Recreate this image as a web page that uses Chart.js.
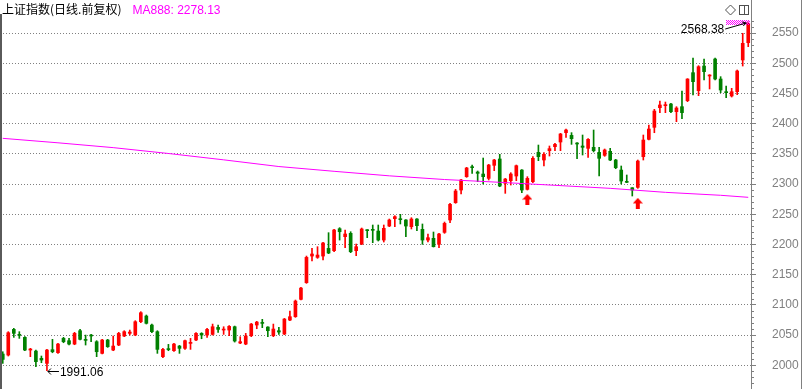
<!DOCTYPE html>
<html>
<head>
<meta charset="utf-8">
<script src="https://cdn.jsdelivr.net/npm/chart.js@4.4.1/dist/chart.umd.min.js"></script>
<style>
  html, body { margin: 0; padding: 0; background: #fff; }
  #wrap { position: relative; width: 803px; height: 389px; overflow: hidden; }
  #title { position: absolute; left: 2px; top: 2px; font: 12px "Noto Sans CJK SC", sans-serif; line-height: 14px; color: #000; white-space: nowrap; }
  #title .ma { color: #ff00ff; font-family: "Liberation Sans", Arial, sans-serif; margin-left: 11px; }
</style>
</head>
<body>
<div id="wrap">
  <canvas id="kline" width="803" height="389"></canvas>
  <div id="title">上证指数(日线.前复权)<span class="ma">MA888: 2278.13</span></div>
</div>
<script>
(function () {
  // daily candles
  const opens = [
    2018.7, 2017.0, 2059.5, 2050.7, 2046.3, 2025.3, 2023.6, 2011.5, 2003.2, 2025.9,
    2020.9, 2044.6, 2040.8, 2035.2, 2057.3, 2042.4, 2050.1, 2039.1, 2019.8, 2041.9,
    2025.3, 2033.6, 2048.5, 2052.9, 2050.1, 2072.2, 2081.6, 2066.7, 2055.7, 2014.3,
    2027.0, 2024.2, 2031.9, 2028.1, 2036.3, 2041.9, 2052.9, 2050.1, 2051.2, 2062.8,
    2058.4, 2058.4, 2063.9, 2036.9, 2035.2, 2049.0, 2066.7, 2070.5, 2063.4, 2049.0,
    2057.3, 2051.8, 2074.9, 2080.5, 2109.2, 2136.8, 2180.9, 2178.7, 2180.9, 2193.6,
    2189.8, 2226.2, 2213.0, 2218.5, 2189.8, 2200.8, 2224.0, 2224.0, 2222.3, 2207.4,
    2230.6, 2242.8, 2242.2, 2240.6, 2229.5, 2242.2, 2225.1, 2207.4, 2210.2, 2200.3,
    2220.1, 2240.6, 2269.3, 2290.2, 2312.3, 2328.3, 2320.0, 2316.7, 2309.5, 2331.1,
    2341.6, 2301.3, 2305.7, 2313.4, 2323.3, 2291.3, 2304.0, 2352.6, 2339.9, 2355.4,
    2362.0, 2369.7, 2385.2, 2380.7, 2367.5, 2363.1, 2359.2, 2360.9, 2352.6, 2347.6,
    2354.3, 2339.9, 2323.3, 2304.0, 2294.0, 2294.6, 2345.4, 2374.1, 2394.0, 2426.5,
    2429.9, 2432.6, 2419.9, 2428.2, 2438.1, 2484.5, 2454.7, 2495.5, 2479.0, 2507.1,
    2474.0, 2453.0, 2445.9, 2453.0, 2505.5, 2534.1
  ];
  const highs = [
    2022.5, 2055.7, 2061.2, 2055.7, 2047.4, 2028.1, 2025.3, 2015.4, 2026.4, 2043.0,
    2036.3, 2046.3, 2044.6, 2054.6, 2059.5, 2050.1, 2051.2, 2040.8, 2043.0, 2043.0,
    2048.5, 2054.6, 2057.3, 2058.4, 2073.9, 2088.8, 2083.3, 2068.4, 2057.3, 2028.1,
    2034.7, 2036.3, 2033.0, 2041.9, 2044.6, 2054.0, 2054.0, 2061.2, 2068.3, 2066.7,
    2063.9, 2065.6, 2065.0, 2047.4, 2052.9, 2069.4, 2072.8, 2076.1, 2063.9, 2068.3,
    2062.8, 2077.7, 2089.9, 2108.1, 2129.1, 2180.9, 2193.6, 2196.4, 2203.6, 2219.6,
    2225.1, 2227.9, 2224.0, 2221.2, 2200.8, 2227.3, 2224.6, 2232.3, 2232.3, 2232.3,
    2242.2, 2247.7, 2250.0, 2241.1, 2244.4, 2242.8, 2234.0, 2217.4, 2220.7, 2218.5,
    2237.2, 2268.2, 2291.3, 2307.9, 2327.8, 2331.6, 2321.7, 2343.2, 2332.7, 2341.0,
    2349.3, 2309.5, 2318.9, 2331.6, 2323.9, 2312.3, 2345.4, 2364.7, 2352.0, 2363.1,
    2367.5, 2384.1, 2391.2, 2385.2, 2368.6, 2381.3, 2375.2, 2389.6, 2360.9, 2358.1,
    2359.2, 2341.0, 2330.0, 2315.1, 2294.1, 2339.9, 2381.3, 2397.9, 2423.8, 2437.6,
    2435.9, 2433.7, 2428.2, 2454.1, 2474.6, 2508.8, 2496.1, 2507.1, 2481.2, 2508.8,
    2477.9, 2462.4, 2458.6, 2488.9, 2549.7, 2568.38
  ];
  const lows = [
    2003.2, 2015.4, 2046.3, 2044.6, 2024.2, 2014.3, 1997.7, 2004.3, 1991.06, 2020.8,
    2019.8, 2037.4, 2033.6, 2034.1, 2041.9, 2033.6, 2039.1, 2014.3, 2018.7, 2029.7,
    2024.2, 2032.5, 2047.4, 2050.1, 2049.0, 2070.6, 2068.4, 2054.0, 2019.8, 2012.6,
    2024.2, 2023.1, 2019.8, 2026.4, 2026.4, 2040.8, 2044.0, 2046.3, 2050.1, 2054.5,
    2051.2, 2049.0, 2038.5, 2035.8, 2034.1, 2047.4, 2060.6, 2062.3, 2047.4, 2047.4,
    2051.2, 2050.7, 2073.9, 2079.4, 2108.1, 2135.7, 2172.7, 2177.1, 2174.3, 2184.8,
    2188.1, 2207.4, 2194.7, 2186.5, 2181.5, 2199.7, 2211.3, 2203.0, 2205.8, 2204.1,
    2229.5, 2229.5, 2234.0, 2213.0, 2225.7, 2222.9, 2200.3, 2204.1, 2195.8, 2194.7,
    2218.5, 2236.1, 2268.2, 2283.6, 2311.2, 2317.8, 2304.0, 2300.2, 2306.8, 2322.2,
    2295.7, 2284.7, 2298.5, 2305.7, 2285.8, 2290.2, 2302.4, 2338.8, 2330.0, 2346.5,
    2355.4, 2355.4, 2377.4, 2365.8, 2342.1, 2348.2, 2344.3, 2353.2, 2313.4, 2346.0,
    2338.8, 2325.5, 2300.2, 2302.4, 2280.3, 2293.0, 2339.9, 2373.0, 2385.1, 2418.3,
    2418.3, 2418.3, 2403.4, 2408.3, 2436.5, 2447.5, 2446.4, 2472.4, 2457.5, 2472.4,
    2451.4, 2443.1, 2444.2, 2448.1, 2495.5, 2527.5
  ];
  const closes = [
    2009.8, 2054.0, 2052.9, 2049.6, 2025.3, 2027.0, 2006.0, 2008.7, 2025.3, 2022.5,
    2035.2, 2039.1, 2035.2, 2052.9, 2043.0, 2041.3, 2048.5, 2022.5, 2041.9, 2030.8,
    2031.9, 2052.9, 2055.7, 2055.1, 2072.2, 2087.1, 2069.5, 2055.7, 2026.4, 2026.4,
    2026.0, 2035.2, 2028.1, 2040.8, 2038.0, 2052.9, 2050.1, 2059.5, 2063.9, 2059.5,
    2059.5, 2064.5, 2040.2, 2039.1, 2048.5, 2068.3, 2071.6, 2069.4, 2057.3, 2060.1,
    2055.1, 2076.6, 2080.5, 2106.4, 2127.9, 2178.7, 2184.3, 2182.6, 2202.5, 2185.9,
    2224.0, 2221.2, 2217.4, 2188.1, 2196.4, 2225.7, 2222.9, 2223.5, 2207.4, 2226.8,
    2240.6, 2246.1, 2241.1, 2230.6, 2242.2, 2231.2, 2207.4, 2211.3, 2196.4, 2217.4,
    2235.0, 2266.5, 2288.6, 2306.8, 2326.7, 2327.2, 2317.8, 2312.3, 2331.6, 2339.9,
    2296.8, 2308.4, 2316.7, 2330.5, 2290.2, 2309.5, 2342.7, 2345.4, 2349.3, 2358.7,
    2365.8, 2383.0, 2389.6, 2375.2, 2366.4, 2360.9, 2374.1, 2355.4, 2342.7, 2356.5,
    2339.9, 2327.2, 2305.1, 2302.9, 2290.2, 2338.2, 2373.0, 2391.2, 2421.0, 2431.0,
    2431.5, 2419.9, 2426.0, 2418.3, 2474.0, 2469.6, 2494.4, 2486.2, 2480.1, 2474.0,
    2455.8, 2451.4, 2453.0, 2487.3, 2533.1, 2566.2
  ];

  // MA888 read at a few candles, drawn as a line through them
  const maIndex = [0, 10, 20, 30, 40, 50, 60, 70, 80, 90, 100, 110, 120, 130, 135];
  const maValues = [2375.8, 2368.4, 2360.4, 2350.7, 2340.2, 2329.1, 2321.2, 2313.7, 2307.6, 2303.0, 2298.0, 2293.0, 2286.4, 2281.5, 2278.13];

  // red up-arrow signals under the candles
  const signalIndex = [95, 115];
  const signalValues = [2274.5, 2268.2];

  const yTicks = [2000, 2050, 2100, 2150, 2200, 2250, 2300, 2350, 2400, 2450, 2500, 2550];
  const yMin = 1960.8;
  const yMax = 2571.7;

  const UP = "#ff0000";
  const DOWN = "#008000";
  const GRAY = "#808080";
  const LABEL_FONT = '12px "Liberation Sans", Arial, sans-serif';

  const labels = opens.map((_, i) => String(i + 1));
  const colors = opens.map((o, i) => (closes[i] >= o ? UP : DOWN));
  const wickData = lows.map((l, i) => [l, highs[i]]);
  const bodyData = opens.map((o, i) => [o, closes[i]]);
  const maData = labels.map(() => null);
  maIndex.forEach((idx, k) => { maData[idx] = maValues[k]; });
  const signalData = labels.map(() => null);
  signalIndex.forEach((idx, k) => { signalData[idx] = signalValues[k]; });

  function upArrow() {
    const c = document.createElement("canvas");
    c.width = 10;
    c.height = 11;
    const g = c.getContext("2d");
    g.fillStyle = UP;
    g.beginPath();
    g.moveTo(5, 0);
    g.lineTo(10, 5.5);
    g.lineTo(7, 5.5);
    g.lineTo(7, 11);
    g.lineTo(3, 11);
    g.lineTo(3, 5.5);
    g.lineTo(0, 5.5);
    g.closePath();
    g.fill();
    return c;
  }

  // frame, minor ticks, high/low labels, corner icons
  const decor = {
    id: "decor",
    afterDraw(chart) {
      const ctx = chart.ctx;
      const xs = chart.scales.x;
      const ys = chart.scales.y;
      ctx.save();

      ctx.strokeStyle = GRAY;
      ctx.lineWidth = 1;
      ctx.beginPath();
      ctx.moveTo(Math.round(ys.left) + 0.5, 0);
      ctx.lineTo(Math.round(ys.left) + 0.5, chart.height);
      ctx.moveTo(801.5, 0);
      ctx.lineTo(801.5, chart.height);
      ctx.stroke();

      ctx.strokeStyle = "#5a5a5a";
      ctx.lineWidth = 2;
      ctx.beginPath();
      ctx.moveTo(1, 14);
      ctx.lineTo(1, chart.height);
      ctx.stroke();

      // minor ticks every 10 points
      ctx.strokeStyle = GRAY;
      ctx.lineWidth = 1;
      ctx.beginPath();
      for (let v = 1970; v <= 2570; v += 10) {
        if (v % 50 === 0) continue;
        const y = Math.round(ys.getPixelForValue(v)) + 0.5;
        ctx.moveTo(ys.left, y);
        ctx.lineTo(ys.left + 3, y);
      }
      ctx.stroke();

      ctx.font = LABEL_FONT;
      ctx.fillStyle = "#000";
      ctx.strokeStyle = "#000";
      ctx.textBaseline = "middle";

      // highest high
      const hiIdx = highs.indexOf(Math.max(...highs));
      const hx = xs.getPixelForValue(hiIdx);
      const hy = ys.getPixelForValue(highs[hiIdx]);

      ctx.fillStyle = "#ff00ff";
      for (let x = 726; x < 749; x += 2) {
        for (let y = 20; y < 25; y++) {
          ctx.fillRect(x + (y % 2), y, 1, 1);
        }
      }

      ctx.fillStyle = "#000";
      ctx.lineWidth = 1;
      ctx.beginPath();
      ctx.moveTo(hx - 23, hy + 7);
      ctx.lineTo(hx - 2, hy + 1);
      ctx.moveTo(hx - 2, hy + 1);
      ctx.lineTo(hx - 6, hy + 0);
      ctx.moveTo(hx - 2, hy + 1);
      ctx.lineTo(hx - 5, hy + 4);
      ctx.stroke();
      ctx.textAlign = "right";
      ctx.fillText(highs[hiIdx].toFixed(2), hx - 24, hy + 8);

      // lowest low
      const loIdx = lows.indexOf(Math.min(...lows));
      const lx = xs.getPixelForValue(loIdx);
      const ly = Math.round(ys.getPixelForValue(lows[loIdx])) + 0.5;
      ctx.beginPath();
      ctx.moveTo(lx + 1, ly);
      ctx.lineTo(lx + 12, ly);
      ctx.moveTo(lx + 1, ly);
      ctx.lineTo(lx + 4, ly - 3);
      ctx.moveTo(lx + 1, ly);
      ctx.lineTo(lx + 4, ly + 3);
      ctx.stroke();
      ctx.textAlign = "left";
      ctx.fillText(lows[loIdx].toFixed(2), lx + 13, ly + 1);

      // corner icons
      ctx.strokeStyle = "#505050";
      ctx.beginPath();
      ctx.moveTo(730.5, 5);
      ctx.lineTo(735.5, 10);
      ctx.lineTo(730.5, 15);
      ctx.lineTo(725.5, 10);
      ctx.closePath();
      ctx.stroke();
      ctx.strokeRect(739.5, 5.5, 9, 9);
      ctx.beginPath();
      ctx.moveTo(744.5, 5.5);
      ctx.lineTo(744.5, 14.5);
      ctx.stroke();

      ctx.restore();
    },
  };

  new Chart(document.getElementById("kline"), {
    data: {
      labels,
      datasets: [
        {
          type: "line",
          data: signalData,
          showLine: false,
          pointStyle: upArrow(),
          pointRadius: 5,
          order: 0,
        },
        {
          type: "line",
          data: maData,
          spanGaps: true,
          borderColor: "#ff00ff",
          borderWidth: 1,
          pointRadius: 0,
          tension: 0,
          order: 1,
        },
        {
          type: "bar",
          data: bodyData,
          backgroundColor: colors,
          barThickness: 3,
          minBarLength: 1,
          grouped: false,
          order: 2,
        },
        {
          type: "bar",
          data: wickData,
          backgroundColor: colors,
          barThickness: 1,
          grouped: false,
          order: 3,
        },
      ],
    },
    options: {
      responsive: false,
      animation: false,
      events: [],
      layout: { autoPadding: false, padding: { top: 20, left: 0, right: 0, bottom: 0 } },
      plugins: { legend: { display: false }, tooltip: { enabled: false } },
      scales: {
        x: { display: false, offset: true, grid: { display: false } },
        y: {
          position: "right",
          min: yMin,
          max: yMax,
          afterBuildTicks: (scale) => {
            scale.ticks = yTicks.map((value) => ({ value }));
          },
          afterFit: (scale) => {
            scale.width = 52;
            scale.paddingTop = 0;
            scale.paddingBottom = 0;
          },
          grid: { color: GRAY, lineWidth: 1, drawTicks: true, tickLength: 5, tickColor: GRAY },
          border: { display: false, dash: [1, 2] },
          ticks: {
            color: GRAY,
            font: { family: '"Liberation Sans", Arial, sans-serif', size: 12 },
            padding: 16,
            callback: (value) => String(value),
          },
        },
      },
    },
    plugins: [decor],
  });
})();
</script>
</body>
</html>
